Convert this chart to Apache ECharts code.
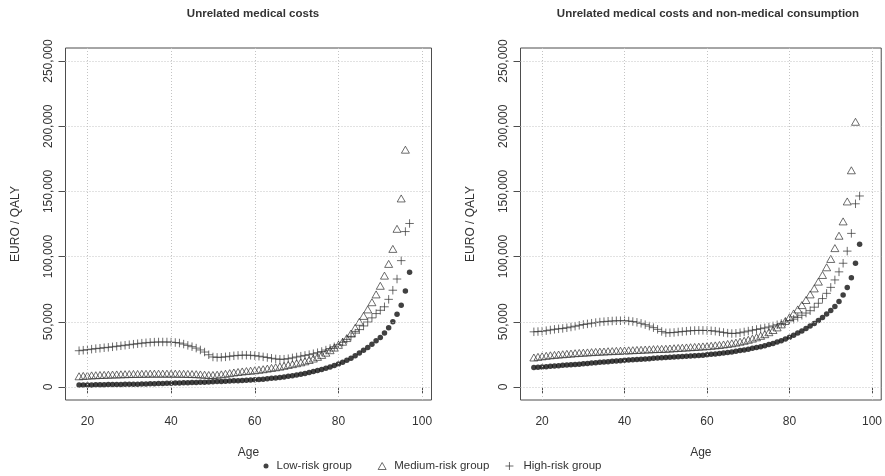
<!DOCTYPE html>
<html>
<head>
<meta charset="utf-8">
<script src="https://cdn.jsdelivr.net/npm/echarts@6/dist/echarts.min.js"></script>
<style>
  html, body { margin: 0; padding: 0; background: #fff; }
  #chart { width: 885px; height: 476px; }
</style>
</head>
<body>
<div id="chart"></div>
<script>
// Ages 18..97
const ages = [];
for (let a = 18; a <= 97; a++) ages.push(a);

const panelTitles = ['Unrelated medical costs', 'Unrelated medical costs and non-medical consumption'];
const groupNames = ['Low-risk group', 'Medium-risk group', 'High-risk group'];
const xTicks = [20, 40, 60, 80, 100];
const yTicks = [0, 50000, 100000, 150000, 200000, 250000];

// EURO / QALY, unrelated medical costs only
const lowMedical = [
  1500, 1500, 1550, 1600, 1650, 1700, 1750, 1800, 1850, 1900,
  1950, 2000, 2050, 2100, 2150, 2200, 2300, 2400, 2500, 2600,
  2700, 2800, 2900, 3000, 3100, 3200, 3300, 3400, 3500, 3600,
  3700, 3800, 3950, 4100, 4250, 4400, 4550, 4700, 4850, 5000,
  5150, 5300, 5500, 5750, 6000, 6300, 6600, 6950, 7300, 7700,
  8150, 8650, 9200, 9800, 10400, 11100, 11800, 12600, 13400, 14300,
  15300, 16400, 17600, 18900, 20400, 22100, 24000, 26000, 28100, 30300,
  32700, 35400, 38000, 41300, 45400, 50000, 55700, 62600, 73600, 88000
];
const mediumMedical = [
  8200, 8500, 8700, 8900, 9000, 9200, 9300, 9400, 9500, 9600,
  9700, 9800, 9900, 10000, 10000, 10100, 10100, 10200, 10200, 10200,
  10200, 10200, 10200, 10200, 10100, 10100, 10000, 9900, 9800, 9600,
  9400, 9200, 9200, 9400, 9700, 10100, 10600, 11100, 11500, 11900,
  12200, 12500, 12800, 13200, 13600, 14100, 14600, 15100, 15600, 16200,
  16900, 17500, 18200, 18900, 19700, 20700, 21800, 23100, 24600, 26300,
  28200, 30200, 32300, 34700, 37500, 41000, 45300, 50000, 54500, 59500,
  65000, 71000, 77600, 85400, 94400, 105900, 121300, 144600, 182000, null
];
const highMedical = [
  27800, 28200, 28600, 29000, 29400, 29700, 30100, 30400, 30800, 31200,
  31600, 32000, 32400, 32800, 33200, 33600, 33900, 34200, 34400, 34500,
  34500, 34500, 34400, 34100, 33700, 32900, 31900, 30900, 29800, 28400,
  26800, 24700, 23000, 22700, 22800, 23100, 23500, 23900, 24200, 24400,
  24400, 24300, 24000, 23600, 23100, 22600, 22000, 21500, 21200, 21300,
  21700, 22300, 23000, 23600, 24200, 24800, 25500, 26300, 27200, 28300,
  29500, 30800, 32300, 34300, 36500, 38800, 41300, 44000, 46800, 49800,
  53000, 56300, 58800, 61500, 67200, 74200, 82800, 96900, 119200, 125400
];

// EURO / QALY, unrelated medical costs plus non-medical consumption
const lowTotal = [
  14900, 15100, 15300, 15500, 15800, 16000, 16300, 16600, 16800, 17000,
  17300, 17500, 17800, 18000, 18300, 18600, 18900, 19200, 19400, 19700,
  20000, 20200, 20500, 20700, 20900, 21100, 21300, 21500, 21700, 22000,
  22200, 22400, 22600, 22800, 23000, 23200, 23400, 23600, 23800, 24000,
  24200, 24400, 24700, 25000, 25300, 25700, 26100, 26500, 26900, 27400,
  27900, 28400, 29000, 29600, 30200, 30900, 31700, 32500, 33400, 34400,
  35500, 36800, 38200, 39700, 41300, 43000, 44800, 46700, 48700, 50900,
  53300, 55900, 58700, 61800, 65600, 70500, 76300, 83800, 94900, 109500
];
const mediumTotal = [
  22600, 23100, 23500, 23900, 24300, 24600, 24900, 25100, 25400, 25600,
  25900, 26100, 26300, 26500, 26700, 26900, 27100, 27200, 27400, 27500,
  27700, 27800, 27900, 28100, 28200, 28400, 28500, 28700, 28800, 29000,
  29100, 29200, 29300, 29500, 29700, 29900, 30100, 30300, 30500, 30700,
  30900, 31100, 31300, 31600, 31900, 32200, 32600, 33000, 33500, 34000,
  34700, 35400, 36200, 37100, 38100, 39200, 40500, 42000, 43700, 45700,
  48000, 50600, 53500, 56400, 59500, 62800, 66700, 71000, 75600, 80800,
  85900, 91800, 98200, 106500, 116000, 127000, 142300, 166200, 203400, null
];
const highTotal = [
  42300, 42500, 42800, 43200, 43700, 44200, 44600, 44900, 45400, 46000,
  46600, 47300, 47900, 48400, 48900, 49400, 49800, 50100, 50400, 50600,
  50800, 50800, 50800, 50600, 50200, 49600, 48800, 47800, 46700, 45500,
  44200, 42600, 41500, 41600, 41800, 42200, 42500, 42800, 43100, 43300,
  43400, 43400, 43300, 43100, 42800, 42300, 41800, 41300, 41000, 41200,
  41600, 42200, 42900, 43500, 44100, 44700, 45300, 46000, 46800, 47700,
  48700, 49700, 50800, 52000, 53400, 55000, 56700, 58500, 61200, 64200,
  67800, 71800, 76400, 82100, 88300, 94900, 104200, 117800, 140500, 146500
];

const panels = [
  [lowMedical, mediumMedical, highMedical],
  [lowTotal, mediumTotal, highTotal]
];

const FONT = "'Liberation Sans', Arial, Helvetica, sans-serif";
const INK = '#333';
const TEXT = '#333';
const FRAME = '#4d4d4d';

function pairs(values) {
  const out = [];
  values.forEach((v, i) => { if (v !== null) out.push([ages[i], v]); });
  return out;
}

const PLUS = 'path://M0,4L8,4M4,0L4,8';
const markerStyles = [
  { symbol: 'circle', symbolSize: 5.5, itemStyle: { color: '#111' } },
  { symbol: 'triangle', symbolSize: [8, 7], itemStyle: { color: 'rgba(0,0,0,0)', borderColor: INK, borderWidth: 0.9 } },
  { symbol: PLUS, symbolSize: [8.5, 8.5], itemStyle: { color: 'rgba(0,0,0,0)', borderColor: INK, borderWidth: 0.9 } }
];

const grids = [
  { left: 65.5, top: 48, width: 366, height: 352 },
  { left: 520.5, top: 48, width: 365, height: 352 }
];

const xAxes = grids.map((g, i) => ({
  type: 'value', gridIndex: i, min: 14.76, max: 102.24,
  axisLine: { show: false },
  axisTick: { customValues: xTicks, length: 7, lineStyle: { color: FRAME } },
  axisLabel: { customValues: xTicks, margin: 16, fontSize: 12, color: TEXT, fontFamily: FONT },
  splitLine: { show: false },
  name: 'Age', nameLocation: 'middle', nameGap: 47,
  nameTextStyle: { fontSize: 12, color: TEXT, fontFamily: FONT }
}));

const yAxes = grids.map((g, i) => ({
  type: 'value', gridIndex: i, min: -10000, max: 260000,
  axisLine: { show: false },
  axisTick: { customValues: yTicks, length: 7, lineStyle: { color: FRAME } },
  axisLabel: {
    customValues: yTicks, rotate: 90, margin: 11, fontSize: 12, color: TEXT, fontFamily: FONT,
    formatter: v => v.toLocaleString('en-US')
  },
  splitLine: { show: false },
  name: 'EURO / QALY', nameLocation: 'middle', nameGap: 44,
  nameTextStyle: { fontSize: 12, color: TEXT, fontFamily: FONT }
}));

const series = [];
panels.forEach((groups, p) => {
  // dotted reference grid drawn under the points
  series.push({
    type: 'scatter', name: 'grid' + p, xAxisIndex: p, yAxisIndex: p, data: [], z: 1,
    silent: true,
    markLine: {
      silent: true, symbol: ['none', 'none'], label: { show: false },
      lineStyle: { type: [1, 2], color: '#c4c4c4', width: 1 },
      data: xTicks.map(v => ({ xAxis: v })).concat(yTicks.map(v => ({ yAxis: v })))
    }
  });
  groups.forEach((vals, k) => {
    series.push(Object.assign({
      type: 'scatter', name: groupNames[k], xAxisIndex: p, yAxisIndex: p, z: 3,
      data: pairs(vals)
    }, markerStyles[k]));
  });
});

const legendSpec = [
  { name: groupNames[0], left: 263.5, w: 5, h: 5, pad: 3 },
  { name: groupNames[1], left: 377.7, w: 8, h: 7, pad: 3 },
  { name: groupNames[2], left: 505, w: 8, h: 8, pad: 5 }
];

const option = {
  animation: false,
  backgroundColor: '#fff',
  title: [
    { text: panelTitles[0], left: 248, top: 3, textAlign: 'center',
      textStyle: { fontSize: 11.5, fontWeight: 'bold', color: TEXT, fontFamily: FONT } },
    { text: panelTitles[1], left: 703, top: 3, textAlign: 'center',
      textStyle: { fontSize: 11.5, fontWeight: 'bold', color: TEXT, fontFamily: FONT } }
  ],
  grid: grids.map(g => Object.assign({ show: true, borderColor: FRAME, borderWidth: 1, backgroundColor: 'transparent' }, g)),
  xAxis: xAxes,
  yAxis: yAxes,
  legend: legendSpec.map(l => ({
    data: [l.name], left: l.left, top: 460, padding: 0,
    itemWidth: l.w, itemHeight: l.h, itemGap: 0,
    selectedMode: false,
    itemStyle: { borderWidth: 0.9 },
    textStyle: { fontSize: 11.5, color: TEXT, fontFamily: FONT, padding: [0, 0, 0, l.pad] }
  })),
  series: series
};

const chart = echarts.init(document.getElementById('chart'), null, { renderer: 'canvas' });
chart.setOption(option);
</script>
</body>
</html>
